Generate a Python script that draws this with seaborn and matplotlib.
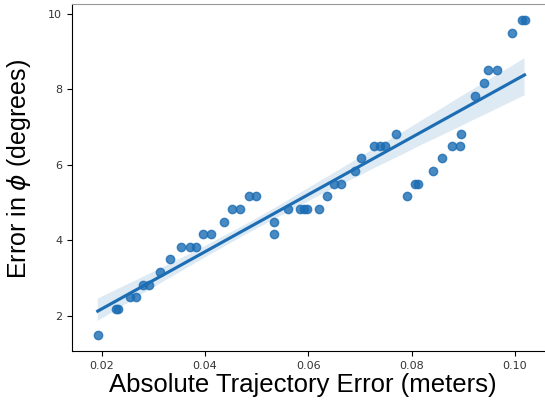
import numpy as np
import pandas as pd
import matplotlib
matplotlib.use("Agg")
import matplotlib.pyplot as plt
import seaborn as sns

# Absolute trajectory error (meters) vs heading error (degrees)
ate = [0.0192, 0.0228, 0.0231, 0.0255, 0.0267, 0.0279, 0.0292, 0.0313, 0.0332,
       0.0354, 0.0371, 0.0382, 0.0395, 0.0411, 0.0436, 0.0452, 0.0468, 0.0486,
       0.0498, 0.0533, 0.0533, 0.0561, 0.0584, 0.0591, 0.0598, 0.0620, 0.0637,
       0.0649, 0.0663, 0.0690, 0.0702, 0.0728, 0.0739, 0.0748, 0.0769, 0.0791,
       0.0807, 0.0812, 0.0841, 0.0860, 0.0878, 0.0894, 0.0896, 0.0923, 0.0940,
       0.0949, 0.0966, 0.0995, 0.1014, 0.1019]
phi_err = [1.50, 2.17, 2.17, 2.50, 2.50, 2.83, 2.83, 3.17, 3.50,
           3.83, 3.83, 3.83, 4.17, 4.17, 4.50, 4.83, 4.83, 5.17,
           5.17, 4.50, 4.17, 4.83, 4.83, 4.83, 4.83, 4.83, 5.17,
           5.50, 5.50, 5.83, 6.17, 6.50, 6.50, 6.50, 6.83, 5.17,
           5.50, 5.50, 5.83, 6.17, 6.50, 6.50, 6.83, 7.83, 8.17,
           8.50, 8.50, 9.50, 9.83, 9.83]

df = pd.DataFrame({"ate": ate, "phi": phi_err})

np.random.seed(0)
fig = plt.figure(figsize=(5.45, 4.03), dpi=100)
ax = fig.add_axes([0.132, 0.129, 0.874, 0.861])
sns.regplot(data=df, x="ate", y="phi", ax=ax, color="#1c6db3", seed=0)

ax.set_xlim(0.0142, 0.1065)
ax.set_ylim(1.07, 10.26)
ax.set_xticks([0.02, 0.04, 0.06, 0.08, 0.10])
ax.set_xticklabels(["0.02", "0.04", "0.06", "0.08", "0.10"])
ax.set_yticks([2, 4, 6, 8, 10])
ax.tick_params(labelsize=8, labelcolor="#333333")
ax.set_xlabel("Absolute Trajectory Error (meters)", fontsize=18.5,
              family="Liberation Sans")
ax.set_ylabel(r"Error in $\phi$ (degrees)", fontsize=18,
              family="Liberation Sans")
ax.xaxis.set_label_coords(0.484, -0.063)
ax.yaxis.set_label_coords(-0.082, 0.525)
ax.spines["top"].set_color("#999999")

fig.savefig("out.png", dpi=100)
